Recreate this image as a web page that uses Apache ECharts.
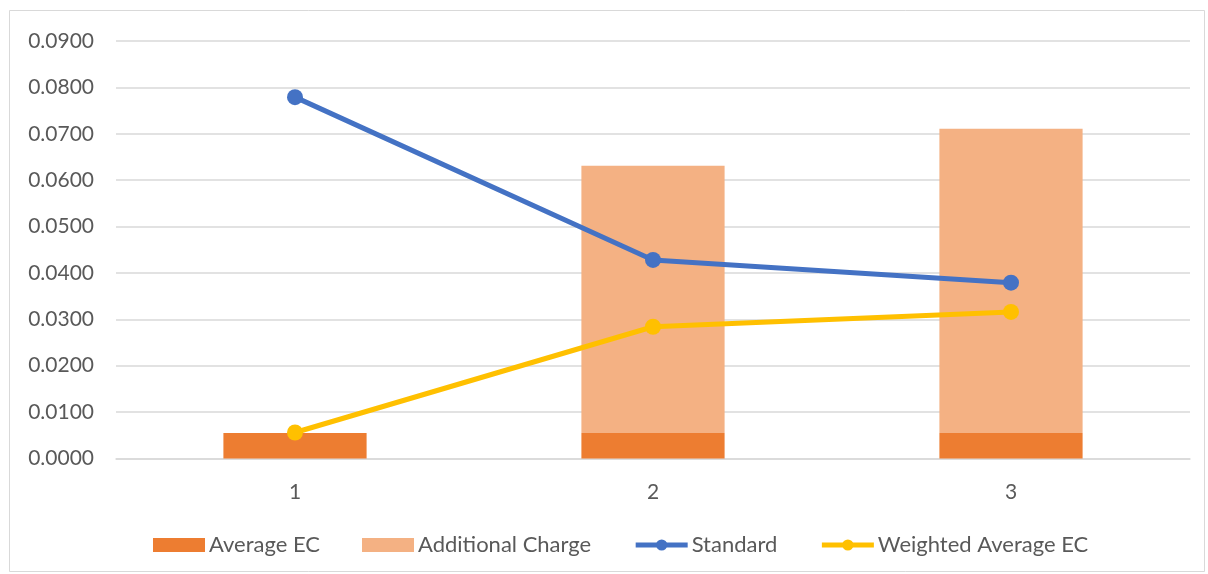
<!DOCTYPE html>
<html>
<head>
<meta charset="utf-8">
<script src="https://cdn.jsdelivr.net/npm/echarts@6/dist/echarts.min.js"></script>
<style>
  html, body { margin: 0; padding: 0; background: #fff; }
  #chart { width: 1208px; height: 574px; }
</style>
</head>
<body>
<div id="chart"></div>
<script>
// Categories and series values
const categories = ['1', '2', '3'];
const averageEC = [0.0055, 0.0055, 0.0055];
const additionalCharge = [0, 0.0576, 0.0656];
const standard = [0.0779, 0.0428, 0.0379];
const weightedAverageEC = [0.0056, 0.0284, 0.0316];

const textColor = '#595959';
const gridColor = '#d9d9d9';
const fontFamily = 'Lato, "Open Sans", sans-serif';
const blue = '#4472c4';
const gold = '#ffc000';

const chart = echarts.init(document.getElementById('chart'));
chart.setOption({
  animation: false,
  backgroundColor: '#fff',
  textStyle: { fontFamily: fontFamily },
  graphic: [{
    type: 'rect',
    shape: { x: 9.5, y: 10.5, width: 1195, height: 561 },
    style: { fill: 'none', stroke: gridColor, lineWidth: 1 },
    silent: true
  }],
  grid: { left: 116, right: 18, top: 41, bottom: 115.5, containLabel: false },
  legend: {
    top: 529,
    left: 148,
    itemGap: 42,
    itemWidth: 52,
    itemHeight: 14,
    textStyle: { color: textColor, fontSize: 22, fontFamily: fontFamily, padding: [0, 0, 0, -1] },
    data: [
      { name: 'Average EC', icon: 'rect' },
      { name: 'Additional Charge', icon: 'rect' },
      { name: 'Standard', lineStyle: { width: 5, color: blue } },
      { name: 'Weighted Average EC', lineStyle: { width: 5, color: gold } }
    ]
  },
  xAxis: {
    type: 'category',
    data: categories,
    axisLine: { lineStyle: { color: gridColor, width: 1.5 } },
    axisTick: { show: false },
    axisLabel: { color: textColor, fontSize: 21, margin: 23 }
  },
  yAxis: {
    type: 'value',
    min: 0,
    max: 0.09,
    interval: 0.01,
    axisLine: { show: false },
    axisTick: { show: false },
    splitLine: { lineStyle: { color: gridColor, width: 1.5 } },
    axisLabel: {
      color: textColor,
      fontSize: 21,
      margin: 22,
      formatter: v => v.toFixed(4)
    }
  },
  series: [
    {
      name: 'Average EC',
      type: 'bar',
      stack: 'total',
      barWidth: '40%',
      data: averageEC,
      itemStyle: { color: '#ed7d31' }
    },
    {
      name: 'Additional Charge',
      type: 'bar',
      stack: 'total',
      barWidth: '40%',
      data: additionalCharge,
      itemStyle: { color: '#f4b183' }
    },
    {
      name: 'Standard',
      type: 'line',
      data: standard,
      symbol: 'circle',
      symbolSize: 16,
      lineStyle: { color: blue, width: 5 },
      itemStyle: { color: blue },
      z: 5
    },
    {
      name: 'Weighted Average EC',
      type: 'line',
      data: weightedAverageEC,
      symbol: 'circle',
      symbolSize: 16,
      lineStyle: { color: gold, width: 5 },
      itemStyle: { color: gold },
      z: 5
    }
  ]
});
</script>
</body>
</html>
